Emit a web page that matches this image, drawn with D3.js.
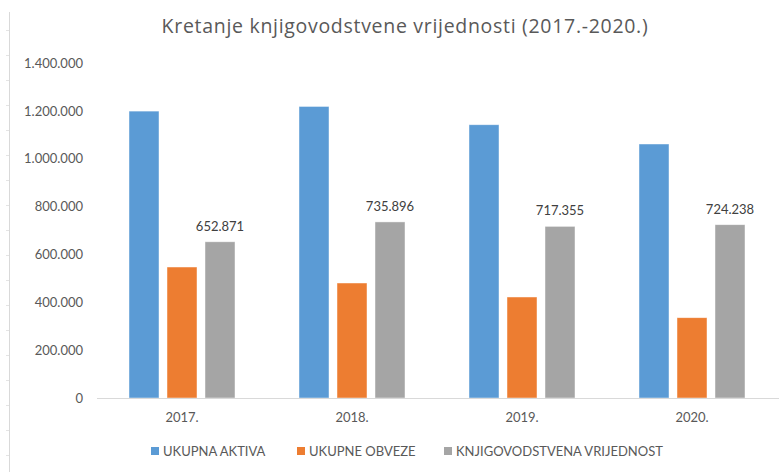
<!DOCTYPE html>
<html>
<head>
<meta charset="utf-8">
<script src="https://cdn.jsdelivr.net/npm/d3@7"></script>
<style>
  html, body { margin: 0; padding: 0; background: #fff; }
  svg { display: block; font-family: Lato, "Open Sans", sans-serif; }
</style>
</head>
<body>
<svg id="chart" width="779" height="472"></svg>
<script>
var years = ["2017.", "2018.", "2019.", "2020."];
var seriesNames = ["UKUPNA AKTIVA", "UKUPNE OBVEZE", "KNJIGOVODSTVENA VRIJEDNOST"];
var aktiva = [1199000, 1218500, 1142000, 1061500];
var obveze = [547400, 480600, 422100, 335600];
var knjigVrijednost = [652871, 735896, 717355, 724238];
var yTicks = [0, 200000, 400000, 600000, 800000, 1000000, 1200000, 1400000];
var colors = ["#5B9BD5", "#ED7D31", "#A5A5A5"];

var svg = d3.select("#chart");
var locale = d3.formatLocale({ decimal: ",", thousands: ".", grouping: [3], currency: ["", ""] });
var fmt = locale.format(",d");

var data = years.map(function(y, i) {
    return { year: y, values: [aktiva[i], obveze[i], knjigVrijednost[i]] };
});

// faint border line on the left, like in the source image
svg.append("line")
    .attr("x1", 9.5).attr("x2", 9.5)
    .attr("y1", 12).attr("y2", 472)
    .attr("stroke", "#D9D9D9");
svg.selectAll(".edge-tick")
    .data(d3.range(30, 472, 25))
    .enter().append("line")
    .attr("class", "edge-tick")
    .attr("x1", 6).attr("x2", 9)
    .attr("y1", function(d) { return d + 0.5; })
    .attr("y2", function(d) { return d + 0.5; })
    .attr("stroke", "#E4E4E4");

var x = d3.scaleBand()
    .domain(years)
    .range([97, 777]);

var xs = d3.scaleBand()
    .domain(d3.range(seriesNames.length))
    .range([x.bandwidth() / 2 - 53, x.bandwidth() / 2 + 53])
    .paddingInner(8 / 38);

var y = d3.scaleLinear()
    .domain([0, 1400000])
    .range([398, 63]);

// title
svg.append("text")
    .attr("x", 405)
    .attr("y", 33)
    .attr("text-anchor", "middle")
    .attr("fill", "#595959")
    .attr("font-size", 19.5)
    .attr("letter-spacing", 0.7)
    .attr("font-family", "'Open Sans', Lato, sans-serif")
    .text("Kretanje knjigovodstvene vrijednosti (2017.-2020.)");

// y axis labels
var yAxis = svg.append("g")
    .attr("transform", "translate(83,0)")
    .call(d3.axisLeft(y).tickValues(yTicks).tickFormat(fmt).tickSize(0).tickPadding(0));
yAxis.select(".domain").remove();
yAxis.selectAll("text")
    .attr("fill", "#595959")
    .attr("font-size", 13)
    .attr("font-family", "Lato, 'Open Sans', sans-serif");

// bars
var groups = svg.selectAll(".group")
    .data(data)
    .enter().append("g")
    .attr("class", "group")
    .attr("transform", function(d) { return "translate(" + x(d.year) + ",0)"; });

groups.selectAll("rect")
    .data(function(d) { return d.values; })
    .enter().append("rect")
    .attr("x", function(d, i) { return xs(i); })
    .attr("y", function(d) { return y(d); })
    .attr("width", xs.bandwidth())
    .attr("height", function(d) { return y(0) - y(d); })
    .attr("fill", function(d, i) { return colors[i]; })
    .attr("stroke", "#fff")
    .attr("stroke-opacity", 0.6)
    .attr("stroke-width", 0.75);

// data labels on the third series
groups.append("text")
    .attr("x", xs(2) + xs.bandwidth() / 2)
    .attr("y", function(d) { return y(d.values[2]) - 11; })
    .attr("text-anchor", "middle")
    .attr("fill", "#404040")
    .attr("font-size", 13)
    .text(function(d) { return fmt(d.values[2]); });

// x axis
var xAxis = svg.append("g")
    .attr("transform", "translate(0," + y(0) + ")")
    .call(d3.axisBottom(x).tickSize(0).tickPadding(15));
xAxis.select(".domain").attr("stroke", "#D9D9D9").attr("d", "M97,0.5H779");
xAxis.selectAll("text")
    .attr("fill", "#595959")
    .attr("font-size", 13)
    .attr("font-family", "Lato, 'Open Sans', sans-serif");

// legend
var legendX = [151, 297, 444];
var legend = svg.selectAll(".legend")
    .data(seriesNames)
    .enter().append("g")
    .attr("class", "legend")
    .attr("transform", function(d, i) { return "translate(" + legendX[i] + ",447)"; });
legend.append("rect")
    .attr("width", 8).attr("height", 8)
    .attr("fill", function(d, i) { return colors[i]; });
legend.append("text")
    .attr("x", 12)
    .attr("y", 9)
    .attr("fill", "#595959")
    .attr("font-size", 13)
    .text(function(d) { return d; });
</script>
</body>
</html>
